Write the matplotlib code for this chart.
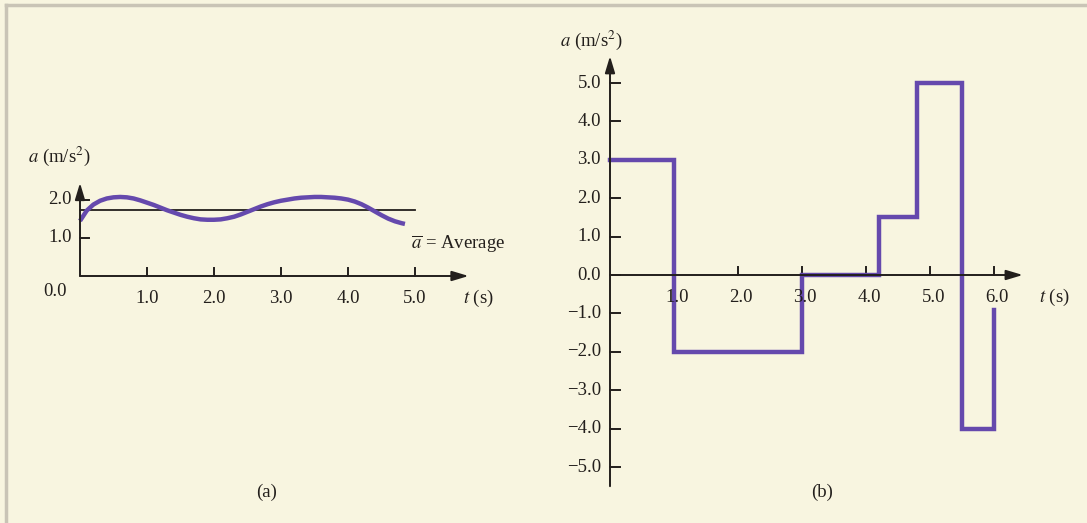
import numpy as np
import matplotlib.pyplot as plt
from matplotlib.lines import Line2D

W, H = 1087, 523

# panel (a): smooth acceleration curve
t_a = [0.0, 0.1, 0.2, 0.3, 0.4, 0.5, 0.6, 0.7, 0.8, 0.9, 1.0, 1.1, 1.2, 1.3, 1.4,
       1.5, 1.6, 1.7, 1.8, 1.9, 2.0, 2.1, 2.2, 2.3, 2.4, 2.5, 2.6, 2.7, 2.8, 2.9,
       3.0, 3.1, 3.2, 3.3, 3.4, 3.5, 3.6, 3.7, 3.8, 3.9, 4.0, 4.1, 4.2, 4.3, 4.4,
       4.5, 4.6, 4.7, 4.8, 4.85]
a_a = [1.45, 1.72, 1.88, 1.98, 2.04, 2.07, 2.08, 2.07, 2.04, 1.99, 1.93, 1.87, 1.80, 1.73, 1.67,
       1.61, 1.56, 1.52, 1.49, 1.48, 1.48, 1.49, 1.52, 1.56, 1.62, 1.69, 1.76, 1.83, 1.89, 1.94,
       1.98, 2.01, 2.04, 2.06, 2.07, 2.08, 2.08, 2.07, 2.06, 2.04, 2.01, 1.96, 1.89, 1.80, 1.70,
       1.60, 1.51, 1.44, 1.39, 1.37]
a_avg = 1.75
ticks_a_x = [1.0, 2.0, 3.0, 4.0, 5.0]
ticks_a_y = [1.0, 2.0]

# panel (b): piecewise constant acceleration
t_b = [0.0, 1.0, 1.0, 3.0, 3.0, 4.2, 4.2, 4.8, 4.8, 5.5, 5.5, 6.0, 6.0]
a_b = [3.0, 3.0, -2.0, -2.0, 0.0, 0.0, 1.5, 1.5, 5.0, 5.0, -4.0, -4.0, -0.9]
ticks_b_x = [1.0, 2.0, 3.0, 4.0, 5.0, 6.0]
ticks_b_y = [5.0, 4.0, 3.0, 2.0, 1.0, 0.0, -1.0, -2.0, -3.0, -4.0, -5.0]

bg = "#f8f5e0"
purple = "#6549ad"
ink = "#231f1c"
fs = 13.5

plt.rcParams["font.family"] = ["Liberation Serif", "DejaVu Serif"]
plt.rcParams["mathtext.fontset"] = "stix"

fig = plt.figure(figsize=(W / 100, H / 100), dpi=100)
fig.patch.set_facecolor(bg)

# thin grey frame at top and left
fig.add_artist(Line2D([6 / W, 1], [1 - 5 / H, 1 - 5 / H], color="#c9c4b6", lw=2.5))
fig.add_artist(Line2D([6 / W, 6 / W], [0, 1 - 5 / H], color="#c9c4b6", lw=2.5))


def make_axes(x0, y0, sx, sy, xlim, ylim):
    left = (x0 + xlim[0] * sx) / W
    bottom = 1 - (y0 - ylim[0] * sy) / H
    ax = fig.add_axes([left, bottom, (xlim[1] - xlim[0]) * sx / W, (ylim[1] - ylim[0]) * sy / H])
    ax.set_xlim(xlim)
    ax.set_ylim(ylim)
    ax.axis("off")
    return ax


def draw_axes(ax, xend, ytop, ybot, xticks, yticks, tl_x, tl_y):
    arrow = dict(arrowstyle="-|>,head_length=1.0,head_width=0.3", color=ink, lw=1.4,
                 shrinkA=0, shrinkB=0)
    ax.annotate("", xy=(xend, 0), xytext=(0, 0), arrowprops=arrow)
    ax.annotate("", xy=(0, ytop), xytext=(0, ybot), arrowprops=arrow)
    for x in xticks:
        ax.plot([x, x], [0, tl_x], color=ink, lw=1.4)
    for y in yticks:
        ax.plot([0, tl_y], [y, y], color=ink, lw=1.4)


# ---- panel (a)
ax1 = make_axes(80, 276, 67, 38, (-1.1, 6.6), (-1.3, 3.6))
draw_axes(ax1, 5.8, 2.45, 0, ticks_a_x, ticks_a_y, 0.2, 0.13)
ax1.plot([0, 5.0], [a_avg, a_avg], color=ink, lw=1.3)
ax1.plot(t_a, a_a, color=purple, lw=3.2, solid_capstyle="butt")
for x in ticks_a_x:
    ax1.text(x, -0.58, f"{x:.1f}", ha="center", va="center", fontsize=fs, color=ink)
for y in ticks_a_y:
    ax1.text(-0.12, y, f"{y:.1f}", ha="right", va="center", fontsize=fs, color=ink)
ax1.text(-0.37, -0.42, "0.0", ha="center", va="center", fontsize=fs, color=ink)
ax1.text(5.95, -0.58, r"$t$ (s)", ha="center", va="center", fontsize=fs, color=ink)
ax1.text(-0.77, 3.15, r"$a$ (m/s$^2$)", ha="left", va="center", fontsize=fs, color=ink)
ax1.text(5.65, 0.85, r"$\overline{a}$ = Average", ha="center", va="center", fontsize=fs, color=ink)
fig.text(267 / W, 1 - 492 / H, "(a)", ha="center", va="center", fontsize=fs, color=ink)

# ---- panel (b)
ax2 = make_axes(610, 275, 64, 38.4, (-1.1, 7.4), (-6.0, 6.6))
draw_axes(ax2, 6.45, 5.7, -5.5, ticks_b_x, ticks_b_y, 0.2, 0.16)
ax2.plot(t_b, a_b, color=purple, lw=3.2, solid_joinstyle="miter")
for x in ticks_b_x:
    ax2.text(x + 0.05, -0.58, f"{x:.1f}", ha="center", va="center", fontsize=fs, color=ink)
for y in ticks_b_y:
    lab = f"{y:.1f}".replace("-", "\u2212")
    ax2.text(-0.14, y, lab, ha="right", va="center", fontsize=fs, color=ink)
ax2.text(6.95, -0.58, r"$t$ (s)", ha="center", va="center", fontsize=fs, color=ink)
ax2.text(-0.78, 6.1, r"$a$ (m/s$^2$)", ha="left", va="center", fontsize=fs, color=ink)
fig.text(822 / W, 1 - 492 / H, "(b)", ha="center", va="center", fontsize=fs, color=ink)

fig.savefig("out.png", dpi=100, facecolor=bg)
